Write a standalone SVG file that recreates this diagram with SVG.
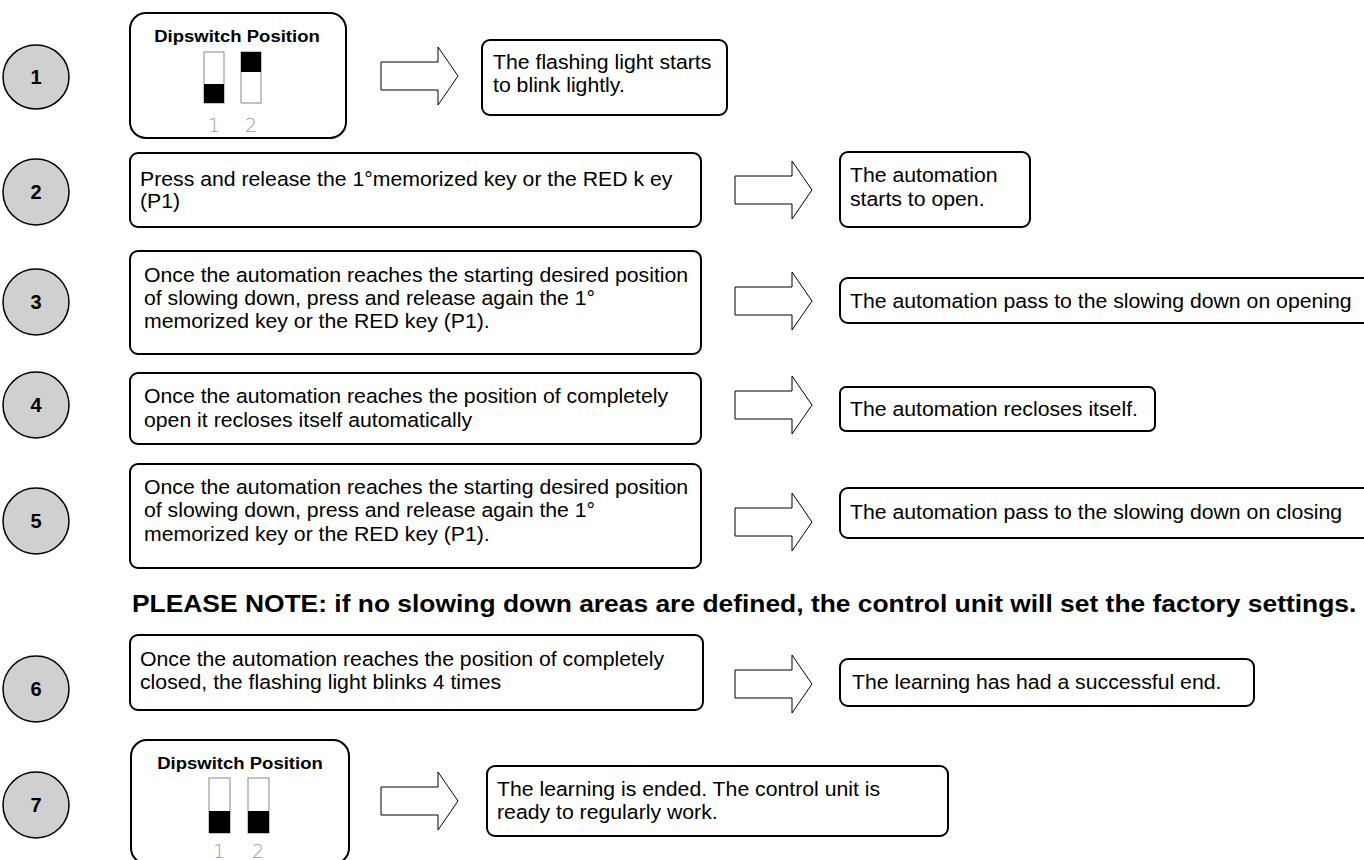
<svg xmlns="http://www.w3.org/2000/svg" width="1364" height="860" viewBox="0 0 1364 860">
<defs>
<style>
.num{fill:#d0d0d0;stroke:#000;stroke-width:1.5}
.numt{font-family:"Liberation Sans",Arial,sans-serif;font-weight:bold;font-size:20px;text-anchor:middle}
.box{fill:#fff;stroke:#000;stroke-width:2}
.t{font-family:"Liberation Sans",Arial,sans-serif;font-size:19.5px;fill:#000;transform-box:fill-box;transform-origin:0 50%;transform:scaleX(1.09)}
.dt{font-family:"Liberation Sans",Arial,sans-serif;font-weight:bold;font-size:17px;text-anchor:middle;transform-box:fill-box;transform-origin:50% 50%;transform:scaleX(1.09)}
.sw{fill:#fff;stroke:#888;stroke-width:1}
.swb{fill:#000}
.swl{font-family:"DejaVu Sans",sans-serif;font-weight:200;font-size:19px;fill:#999;text-anchor:middle}
.arr{fill:#fff;stroke:#000;stroke-width:1}
.note{font-family:"Liberation Sans",Arial,sans-serif;font-weight:bold;font-size:24px;transform-box:fill-box;transform-origin:0 50%;transform:scaleX(1.1)}
</style>
<path id="arrow" class="arr" d="M0,-14 H57 V-29 L77,0 L57,29 V14 H0 Z"/>
</defs>

<g id="step1">
<ellipse class="num" cx="36" cy="77" rx="33" ry="32"/>
<text class="numt" x="36" y="84">1</text>
</g>
<g id="dip1">
<rect class="box" x="130" y="13" width="216" height="125" rx="16"/>
<text class="dt" x="237" y="42">Dipswitch Position</text>
<rect class="sw" x="204" y="52" width="20" height="51"/>
<rect class="swb" x="204" y="84" width="20" height="19"/>
<rect class="sw" x="241" y="52" width="20" height="51"/>
<rect class="swb" x="241" y="52" width="20" height="20"/>
<text class="swl" x="214" y="132">1</text>
<text class="swl" x="251" y="132">2</text>
</g>
<g id="res1">
<rect class="box" x="482" y="40" width="245" height="75" rx="8"/>
<text class="t" x="493" y="69">The flashing light starts</text>
<text class="t" x="493" y="92">to blink lightly.</text>
</g>

<g id="step2">
<ellipse class="num" cx="36" cy="192" rx="33" ry="33"/>
<text class="numt" x="36" y="199">2</text>
</g>
<g id="act2">
<rect class="box" x="130" y="153" width="571" height="74" rx="8"/>
<text class="t" x="140" y="186">Press and release the 1°memorized key or the RED k ey</text>
<text class="t" x="140" y="208">(P1)</text>
</g>
<g id="res2">
<rect class="box" x="840" y="152" width="190" height="75" rx="8"/>
<text class="t" x="850" y="182">The automation</text>
<text class="t" x="850" y="206">starts to open.</text>
</g>

<g id="step3">
<ellipse class="num" cx="36" cy="302" rx="33" ry="33"/>
<text class="numt" x="36" y="309">3</text>
</g>
<g id="act3">
<rect class="box" x="130" y="251" width="571" height="103" rx="8"/>
<text class="t" x="144" y="282">Once the automation reaches the starting desired position</text>
<text class="t" x="144" y="305">of slowing down, press and release again the 1°</text>
<text class="t" x="144" y="328">memorized key or the RED key (P1).</text>
</g>
<g id="res3">
<rect class="box" x="840" y="278" width="560" height="45" rx="8"/>
<text class="t" x="850" y="308">The automation pass to the slowing down on opening</text>
</g>

<g id="step4">
<ellipse class="num" cx="36" cy="405" rx="33" ry="33"/>
<text class="numt" x="36" y="412">4</text>
</g>
<g id="act4">
<rect class="box" x="130" y="373" width="571" height="71" rx="8"/>
<text class="t" x="144" y="403">Once the automation reaches the position of completely</text>
<text class="t" x="144" y="427">open it recloses itself automatically</text>
</g>
<g id="res4">
<rect class="box" x="840" y="387" width="315" height="44" rx="6"/>
<text class="t" x="850" y="416">The automation recloses itself.</text>
</g>

<g id="step5">
<ellipse class="num" cx="36" cy="521" rx="33" ry="33"/>
<text class="numt" x="36" y="528">5</text>
</g>
<g id="act5">
<rect class="box" x="130" y="464" width="571" height="104" rx="8"/>
<text class="t" x="144" y="494">Once the automation reaches the starting desired position</text>
<text class="t" x="144" y="517">of slowing down, press and release again the 1°</text>
<text class="t" x="144" y="541">memorized key or the RED key (P1).</text>
</g>
<g id="res5">
<rect class="box" x="840" y="488" width="560" height="50" rx="8"/>
<text class="t" x="850" y="519">The automation pass to the slowing down on closing</text>
</g>

<text class="note" x="132" y="612">PLEASE NOTE: if no slowing down areas are defined, the control unit will set the factory settings.</text>

<g id="step6">
<ellipse class="num" cx="36" cy="689" rx="33" ry="33"/>
<text class="numt" x="36" y="696">6</text>
</g>
<g id="act6">
<rect class="box" x="130" y="635" width="573" height="75" rx="8"/>
<text class="t" x="140" y="666">Once the automation reaches the position of completely</text>
<text class="t" x="140" y="689">closed, the flashing light blinks 4 times</text>
</g>
<g id="res6">
<rect class="box" x="840" y="659" width="414" height="47" rx="8"/>
<text class="t" x="852" y="689">The learning has had a successful end.</text>
</g>

<g id="step7">
<ellipse class="num" cx="36" cy="805" rx="33" ry="33"/>
<text class="numt" x="36" y="812">7</text>
</g>
<g id="dip7">
<rect class="box" x="131" y="740" width="218" height="124" rx="16"/>
<text class="dt" x="240" y="769">Dipswitch Position</text>
<rect class="sw" x="209" y="778" width="21" height="55"/>
<rect class="swb" x="209" y="811" width="21" height="22"/>
<rect class="sw" x="248" y="778" width="21" height="55"/>
<rect class="swb" x="248" y="811" width="21" height="22"/>
<text class="swl" x="219" y="858">1</text>
<text class="swl" x="258" y="858">2</text>
</g>
<g id="res7">
<rect class="box" x="487" y="766" width="461" height="70" rx="8"/>
<text class="t" x="497" y="796">The learning is ended. The control unit is</text>
<text class="t" x="497" y="819">ready to regularly work.</text>
</g>

<g id="connectors">
<use href="#arrow" x="381" y="76"/>
<use href="#arrow" x="735" y="190"/>
<use href="#arrow" x="735" y="301"/>
<use href="#arrow" x="735" y="405"/>
<use href="#arrow" x="735" y="522"/>
<use href="#arrow" x="735" y="684"/>
<use href="#arrow" x="381" y="801"/>
</g>
</svg>
